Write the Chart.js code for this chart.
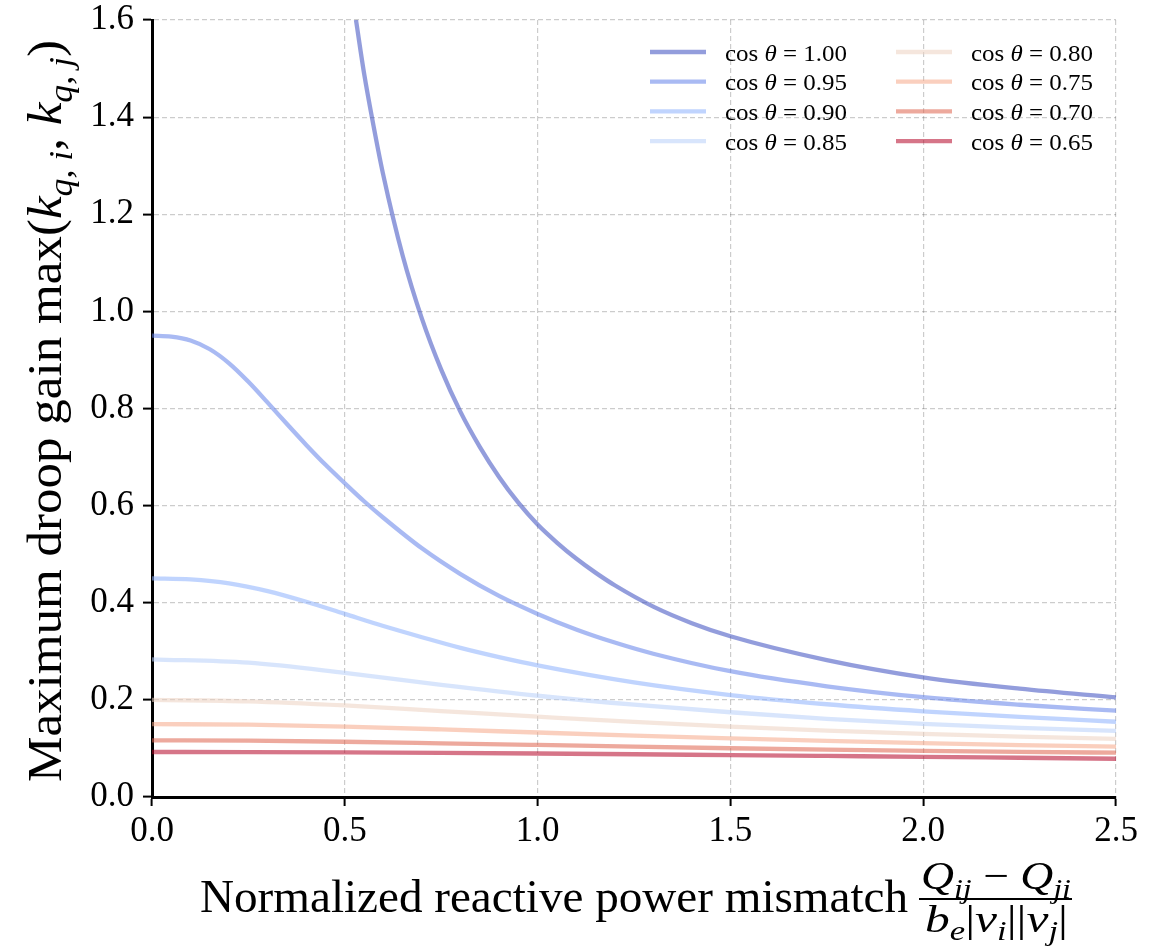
<!DOCTYPE html>
<html>
<head>
<meta charset="utf-8">
<script src="https://cdn.jsdelivr.net/npm/chart.js@4"></script>
<style>
  body { margin: 0; background: #fff; }
  #wrap { width: 1158px; height: 946px; position: relative; }
</style>
</head>
<body>
<div id="wrap"><canvas id="chart1"></canvas></div>
<script>
// power factor of each curve (legend order)
const cosLabels = ['1.00', '0.95', '0.90', '0.85', '0.80', '0.75', '0.70', '0.65'];

// cos = 1.00 leaves the top of the plot, so it has its own x positions
const x100 = [0.529, 0.55, 0.575, 0.6, 0.65, 0.7, 0.75, 0.8, 0.85, 0.9, 0.95, 1.0, 1.05, 1.1, 1.15, 1.2, 1.3, 1.4, 1.5, 1.75, 2.0, 2.25, 2.5];
const y100 = [1.60, 1.49, 1.38, 1.28, 1.115, 0.985, 0.88, 0.793, 0.721, 0.659, 0.606, 0.561, 0.524, 0.491, 0.462, 0.436, 0.392, 0.358, 0.331, 0.282, 0.2465, 0.223, 0.205];

const x095 = [0, 0.05, 0.1, 0.15, 0.2, 0.25, 0.3, 0.35, 0.4, 0.45, 0.5, 0.55, 0.6, 0.7, 0.8, 0.9, 1.0, 1.1, 1.2, 1.3, 1.5, 1.75, 2.0, 2.25, 2.5];
const y095 = [0.950, 0.948, 0.940, 0.922, 0.893, 0.855, 0.812, 0.768, 0.725, 0.684, 0.646, 0.609, 0.575, 0.512, 0.459, 0.414, 0.377, 0.345, 0.318, 0.295, 0.259, 0.228, 0.2055, 0.190, 0.1777];

const x090 = [0, 0.1, 0.2, 0.3, 0.4, 0.5, 0.6, 0.7, 0.8, 0.9, 1.0, 1.25, 1.5, 1.75, 2.0, 2.25, 2.5];
const y090 = [0.450, 0.448, 0.440, 0.424, 0.402, 0.377, 0.352, 0.329, 0.307, 0.288, 0.271, 0.236, 0.210, 0.191, 0.1765, 0.165, 0.155];

// the flatter curves share one set of x positions
const xLow = [0, 0.25, 0.5, 0.75, 1.0, 1.25, 1.5, 1.75, 2.0, 2.25, 2.5];
const y085 = [0.2835, 0.2765, 0.2555, 0.231, 0.2085, 0.190, 0.1745, 0.161, 0.1505, 0.1425, 0.136];
const y080 = [0.200, 0.197, 0.1885, 0.177, 0.1655, 0.1545, 0.1450, 0.1368, 0.1300, 0.1243, 0.1195];
const y075 = [0.150, 0.149, 0.145, 0.1393, 0.1328, 0.1265, 0.1208, 0.1155, 0.1108, 0.1068, 0.1036];
const y070 = [0.1167, 0.1160, 0.1138, 0.1106, 0.1072, 0.1037, 0.1004, 0.0975, 0.0950, 0.0929, 0.0912];
const y065 = [0.0927, 0.0925, 0.0918, 0.0908, 0.0896, 0.0880, 0.0862, 0.0845, 0.0828, 0.0808, 0.0788];

const xTicks = [0, 0.5, 1.0, 1.5, 2.0, 2.5];
const yTicks = [0, 0.2, 0.4, 0.6, 0.8, 1.0, 1.2, 1.4, 1.6];

// coolwarm, drawn at alpha 0.55
const lineColors = [
  'rgba(59, 76, 192, 0.55)',
  'rgba(98, 130, 234, 0.55)',
  'rgba(141, 176, 254, 0.55)',
  'rgba(184, 208, 249, 0.55)',
  'rgba(237, 209, 193, 0.55)',
  'rgba(245, 167, 137, 0.55)',
  'rgba(222, 98, 77, 0.55)',
  'rgba(180, 4, 38, 0.55)'
];

const seriesX = [x100, x095, x090, xLow, xLow, xLow, xLow, xLow];
const seriesY = [y100, y095, y090, y085, y080, y075, y070, y065];

const SERIF = '"Liberation Serif", "Times New Roman", serif';

function partFont(p, size) {
  const s = p.sub ? size * 0.7 : size;
  return (p.it ? 'italic ' : '') + s.toFixed(1) + 'px ' + SERIF;
}

// draws a run of text pieces (italic / subscript), stretched to a given width
function drawParts(ctx, parts, x, y, size, width) {
  let total = 0;
  parts.forEach(p => {
    ctx.font = partFont(p, size);
    p.w = ctx.measureText(p.t).width;
    total += p.w;
  });
  const k = width ? width / total : 1;
  ctx.save();
  ctx.translate(x, y);
  ctx.scale(k, 1);
  ctx.textAlign = 'left';
  ctx.textBaseline = 'alphabetic';
  ctx.fillStyle = '#000';
  let cx = 0;
  parts.forEach(p => {
    ctx.font = partFont(p, size);
    ctx.fillText(p.t, cx, p.sub ? size * 0.22 : 0);
    cx += p.w;
  });
  ctx.restore();
}

const yTitleParts = [
  { t: 'Maximum droop gain max(' },
  { t: 'k', it: true }, { t: 'q, i', it: true, sub: true },
  { t: ', ' },
  { t: 'k', it: true }, { t: 'q, j', it: true, sub: true },
  { t: ')' }
];
const xTitleParts = [{ t: 'Normalized reactive power mismatch' }];
const numParts = [
  { t: 'Q', it: true }, { t: 'ij', it: true, sub: true },
  { t: ' \u2212 ' },
  { t: 'Q', it: true }, { t: 'ji', it: true, sub: true }
];
const denParts = [
  { t: 'b', it: true }, { t: 'e', it: true, sub: true },
  { t: '|' }, { t: 'v', it: true }, { t: 'i', it: true, sub: true },
  { t: '||' }, { t: 'v', it: true }, { t: 'j', it: true, sub: true },
  { t: '|' }
];

const titlePlugin = {
  id: 'titles',
  afterDraw(chart) {
    const ctx = chart.ctx;
    const area = chart.chartArea;

    // y axis title, rotated
    ctx.save();
    ctx.translate(61, 782);
    ctx.rotate(-Math.PI / 2);
    drawParts(ctx, yTitleParts, 0, 0, 48, 742);
    ctx.restore();

    // x axis title with the fraction
    drawParts(ctx, xTitleParts, 200, 912, 47, 708);
    drawParts(ctx, numParts, 921, 889, 40, 150);
    ctx.fillStyle = '#000';
    ctx.fillRect(919, 898, 153, 2);
    drawParts(ctx, denParts, 925, 932, 38, 143);

    // legend, two columns of four
    chart.data.datasets.forEach((ds, i) => {
      const col = Math.floor(i / 4), row = i % 4;
      const lx = area.right - 466 + col * 246;
      const ly = 52 + row * 29.7;
      ctx.save();
      ctx.strokeStyle = ds.borderColor;
      ctx.lineWidth = 4.3;
      ctx.beginPath();
      ctx.moveTo(lx, ly);
      ctx.lineTo(lx + 56, ly);
      ctx.stroke();
      ctx.restore();
      drawParts(ctx, [{ t: 'cos ' }, { t: '\u03b8', it: true }, { t: ' = ' + cosLabels[i] }], lx + 75, ly + 8.5, 24, 122);
    });
  }
};

new Chart(document.getElementById('chart1'), {
  type: 'line',
  data: {
    datasets: cosLabels.map((c, i) => ({
      label: 'cos \u03b8 = ' + c,
      data: seriesX[i].map((x, j) => ({ x: x, y: seriesY[i][j] })),
      borderColor: lineColors[i],
      backgroundColor: lineColors[i],
      borderWidth: 4.3,
      pointRadius: 0,
      cubicInterpolationMode: 'monotone',
      fill: false,
      order: cosLabels.length - i
    }))
  },
  options: {
    responsive: true,
    maintainAspectRatio: false,
    animation: false,
    layout: { padding: { top: 20, right: 42, left: 0, bottom: 0 } },
    plugins: {
      legend: { display: false },
      tooltip: { enabled: false }
    },
    scales: {
      x: {
        type: 'linear',
        min: 0,
        max: 2.5,
        afterBuildTicks: s => { s.ticks = xTicks.map(v => ({ value: v })); },
        afterFit: s => { s.height = 149; },
        ticks: {
          callback: v => v.toFixed(1),
          font: { family: SERIF, size: 35 },
          color: '#000',
          padding: 5,
          maxRotation: 0
        },
        grid: { color: 'rgba(0,0,0,0.2)', lineWidth: 1.2, tickColor: '#000', tickLength: 9, tickWidth: 2 },
        border: { display: true, color: '#000', width: 3, dash: [5, 3] }
      },
      y: {
        type: 'linear',
        min: 0,
        max: 1.6,
        afterBuildTicks: s => { s.ticks = yTicks.map(v => ({ value: v })); },
        afterFit: s => { s.width = 152; },
        ticks: {
          callback: v => v.toFixed(1),
          // small line height so the top label does not push the plot down
          font: { family: SERIF, size: 35, lineHeight: 0.6 },
          color: '#000',
          padding: 9
        },
        grid: { color: 'rgba(0,0,0,0.2)', lineWidth: 1.2, tickColor: '#000', tickLength: 9, tickWidth: 2 },
        border: { display: true, color: '#000', width: 3, dash: [5, 3] }
      }
    }
  },
  plugins: [titlePlugin]
});
</script>
</body>
</html>
